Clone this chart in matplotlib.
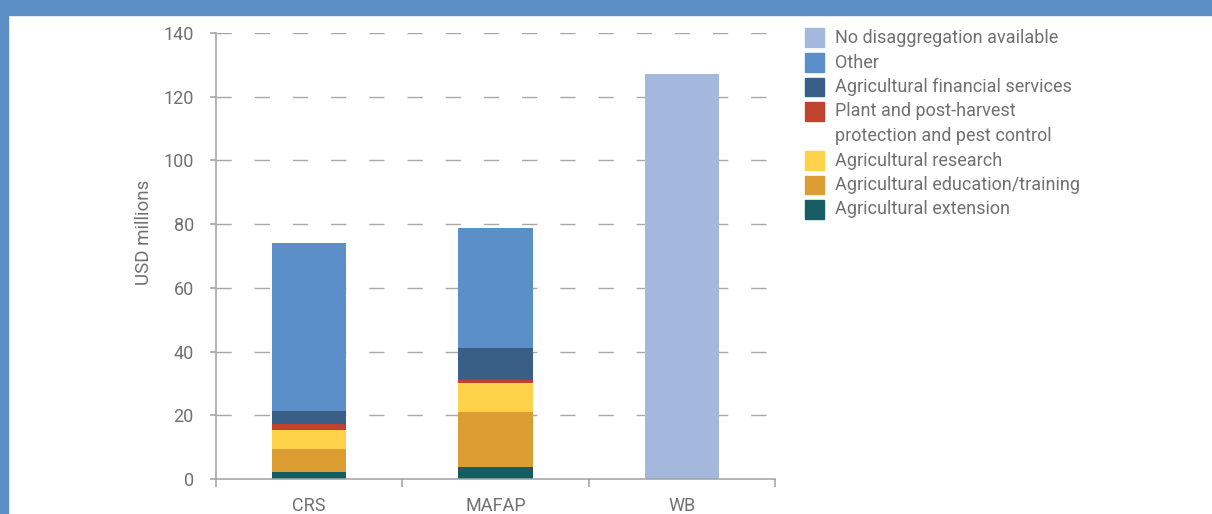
import numpy as np
import matplotlib
matplotlib.use("Agg")
import matplotlib.pyplot as plt
from matplotlib.patches import Rectangle

plt.rcParams["font.family"] = ["Roboto", "DejaVu Sans"]
plt.rcParams["font.weight"] = "normal"

# data (USD millions), stacked from bottom to top
sources = ["CRS", "MAFAP", "WB"]

extension = [2.3, 3.9, 0.0]
education = [7.2, 17.0, 0.0]
research = [5.9, 9.3, 0.0]
plant_protection = [1.9, 1.0, 0.0]
financial = [4.0, 9.9, 0.0]
other = [52.7, 37.7, 0.0]
no_disagg = [0.0, 0.0, 127.2]

series_labels = [
    "Agricultural extension",
    "Agricultural education/training",
    "Agricultural research",
    "Plant and post-harvest\nprotection and pest control",
    "Agricultural financial services",
    "Other",
    "No disaggregation available",
]
series_values = [extension, education, research, plant_protection,
                 financial, other, no_disagg]
series_colors = ["#165c63", "#dc9e33", "#fed34a", "#c0432f",
                 "#3a5f87", "#5a8fc7", "#a3b8dc"]

y_ticks = [0, 20, 40, 60, 80, 100, 120, 140]

TEXT = "#707070"
AXIS = "#a0a0a0"
W, H = 1212, 514

fig = plt.figure(figsize=(W / 100, H / 100), dpi=100)

# blue frame at top and left
fig.patches.append(Rectangle((0, 1 - 15 / H), 1, 15 / H, transform=fig.transFigure,
                             color="#5b8fc6", zorder=0))
fig.patches.append(Rectangle((0, 0), 8 / W, 1, transform=fig.transFigure,
                             color="#5b8fc6", zorder=0))

ax = fig.add_axes([216 / W, 1 - 479 / H, (775 - 216) / W, (479 - 33) / H])

x = np.arange(len(sources))
bottom = np.zeros(len(sources))
for vals, col in zip(series_values, series_colors):
    ax.bar(x, vals, width=0.40, bottom=bottom, color=col, zorder=3)
    bottom += np.array(vals)

ax.set_xlim(-0.5, len(sources) - 0.5)
ax.set_ylim(0, 140)

ax.set_yticks(y_ticks)
ax.set_yticklabels([str(v) for v in y_ticks])
ax.tick_params(axis="y", length=4, width=1.1, color=AXIS, pad=12,
               labelsize=13, labelcolor=TEXT)

# category labels at centres, tick marks at boundaries
ax.set_xticks(x)
ax.set_xticklabels(sources)
ax.tick_params(axis="x", which="major", length=0, pad=13,
               labelsize=13, labelcolor=TEXT)
ax.set_xticks(np.arange(-0.5, len(sources), 1.0), minor=True)
ax.tick_params(axis="x", which="minor", length=6, width=1.1, color=AXIS)

for s in ["top", "right"]:
    ax.spines[s].set_visible(False)
for s in ["left", "bottom"]:
    ax.spines[s].set_color(AXIS)
    ax.spines[s].set_linewidth(1.1)
    ax.spines[s].set_zorder(4)

for v in y_ticks[1:]:
    ax.axhline(v, color="#a8a8a8", lw=1.0, ls=(0, (11, 16.5)), zorder=1)

ax.set_ylabel("USD millions", fontsize=13.5, color=TEXT, fontweight="normal")
ax.yaxis.set_label_coords(-0.113, 0.552)

# legend, top entry first
top_px = 28.5
pitch = 24.5
row = 0
for lab, col in zip(series_labels[::-1], series_colors[::-1]):
    y_top = top_px + pitch * row
    fig.patches.append(Rectangle((805 / W, 1 - (y_top + 18.7) / H), 19 / W, 18.7 / H,
                                 transform=fig.transFigure, color=col))
    for line in lab.split("\n"):
        fig.text(835 / W, 1 - (top_px + pitch * row + 9.5) / H, line,
                 fontsize=13, color=TEXT, va="center", ha="left",
                 transform=fig.transFigure)
        row += 1

fig.savefig("out.png", dpi=100)
